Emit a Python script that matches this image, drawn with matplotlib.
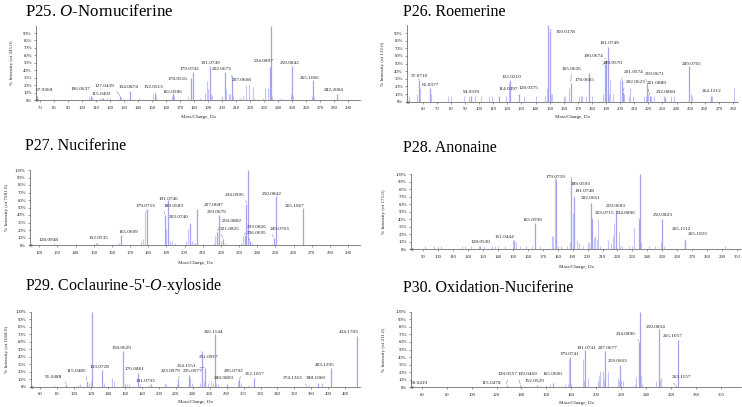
import matplotlib
matplotlib.use('Agg')
import matplotlib.pyplot as plt

plt.rcParams['font.family'] = ['Liberation Serif', 'DejaVu Serif']
plt.rcParams['mathtext.fontset'] = 'custom'
plt.rcParams['mathtext.rm'] = 'Liberation Serif'
plt.rcParams['mathtext.it'] = 'Liberation Serif:italic'

# ---------------- data ----------------
titles = ["P25. $\\mathit{O}$-Nornuciferine", "P26. Roemerine", "P27. Nuciferine",
          "P28. Anonaine", "P29. Coclaurine-5'-$\\mathit{O}$-xyloside", "P30. Oxidation-Nuciferine"]
ylabels = ["% Intensity (of 245.0)", "% Intensity (of 112.0)", "% Intensity (of 7281.0)",
           "% Intensity (of 175.0)", "% Intensity (of 1668.0)", "% Intensity (of 211.0)"]
xlabel_text = "Mass/Charge, Da"

# P25
p25_mz = [67.9368, 106.0637, 115.0492, 127.0439, 134.0874, 152.0513, 165.0586, 178.0516, 179.0742,
          191.0749, 202.0673, 207.0608, 234.0897, 235.0600, 250.0842, 265.1066, 282.2004]
p25_int = [5, 5, 3, 5, 12, 10, 10, 30, 38, 46, 38, 32, 45, 100, 46, 27, 8]
p25_minor_mz = [79, 92, 105, 107, 113, 114, 118, 120, 128, 141, 151, 153, 164, 166, 176, 184, 188, 189,
                190, 192, 193, 200, 203, 205, 206, 208, 213, 215, 217, 219, 222, 223, 229, 231, 233,
                236, 242, 249, 251, 264, 266]
p25_minor_int = [2, 2, 4, 4, 3, 3, 3, 3, 4, 3, 8, 5, 5, 6, 5, 3, 10, 25, 15, 8, 5, 5, 15, 8, 8, 5, 3,
                 5, 20, 22, 17, 3, 3, 16, 16, 5, 3, 8, 5, 5, 4]

# P26
p26_mz = [57.0710, 65.0377, 94.0339, 114.0397, 122.0210, 128.0375, 149.0140, 150.0178, 165.0626,
          178.0665, 189.0570, 190.0674, 191.0749, 201.0574, 202.0623, 219.0671, 221.0880, 232.0868,
          249.0765, 264.1212]
p26_int = [28, 18, 8, 8, 28, 10, 100, 93, 25, 37, 50, 55, 72, 28, 13, 25, 8, 6, 47, 8]
p26_minor_mz = [50, 56, 58, 66, 78, 80, 89, 93, 97, 101, 107, 109, 119, 121, 132, 140, 147, 148, 151,
                152, 160, 161, 164, 171, 172, 173, 176, 180, 188, 192, 193, 195, 200, 203, 206, 207,
                209, 217, 218, 220, 222, 224, 231, 236, 238, 250, 251, 265, 281]
p26_minor_int = [8, 10, 18, 10, 8, 8, 8, 8, 8, 8, 8, 8, 8, 25, 8, 8, 8, 18, 10, 10, 8, 8, 18, 8, 8, 8,
                 8, 8, 10, 10, 28, 10, 28, 10, 8, 18, 8, 8, 8, 10, 8, 8, 8, 8, 8, 10, 8, 8, 18]

# P27
p27_mz = [128.0948, 152.0535, 165.0609, 179.0753, 189.0583, 191.0746, 203.0740, 207.0687, 218.0802,
          219.0679, 221.0825, 233.0826, 234.0905, 235.0616, 236.0695, 249.0763, 250.0842, 265.1067]
p27_int = [1, 3, 13, 48, 40, 60, 30, 48, 18, 40, 8, 13, 55, 100, 5, 10, 65, 50]
p27_minor_mz = [150, 151, 164, 176, 177, 178, 190, 192, 193, 195, 201, 202, 204, 205, 206, 216, 217,
                220, 222, 231, 232, 237, 248]
p27_minor_int = [2, 3, 3, 5, 8, 45, 22, 5, 5, 3, 5, 22, 5, 3, 3, 3, 12, 5, 3, 3, 12, 3, 2]

# P28
p28_mz = [128.0530, 151.0444, 165.0599, 179.0759, 189.0593, 191.0748, 202.0661, 203.0715, 219.0683,
          234.0896, 235.0619, 250.0823, 265.1112, 265.1023]
p28_int = [5, 12, 35, 92, 95, 70, 62, 40, 53, 40, 100, 40, 13, 13]
p28_minor_mz = [91, 97, 100, 102, 116, 118, 122, 127, 131, 136, 138, 140, 145, 150, 152, 155, 159,
                163, 168, 176, 177, 178, 180, 182, 186, 188, 190, 193, 194, 197, 200, 201, 204, 205,
                206, 207, 208, 214, 216, 217, 218, 221, 222, 223, 228, 230, 231, 236, 241, 245, 249,
                251, 292]
p28_minor_int = [5, 5, 5, 5, 5, 5, 5, 5, 5, 5, 5, 5, 5, 12, 10, 5, 5, 5, 5, 18, 18, 97, 5, 5, 5, 10,
                 48, 12, 8, 5, 10, 8, 15, 18, 12, 40, 5, 12, 8, 18, 35, 23, 5, 5, 5, 5, 30, 10, 5, 5,
                 10, 5, 5]

# P29
p29_mz = [91.0488, 115.0485, 121.0580, 133.0728, 158.0629, 176.0861, 191.0733, 223.0979, 235.0977,
          251.0917, 254.1151, 266.1144, 280.0803, 295.0792, 312.1057, 374.1363, 388.1060, 403.1295,
          434.1703]
p29_int = [3, 8, 100, 22, 48, 18, 3, 10, 15, 48, 25, 70, 3, 10, 12, 1, 5, 25, 68]
p29_minor_mz = [77, 105, 107, 118, 120, 135, 145, 147, 160, 163, 165, 178, 189, 207, 209, 221, 237,
                239, 249, 253, 258, 262, 264, 268, 270, 293, 297, 305, 377, 392]
p29_minor_int = [2, 2, 3, 5, 8, 5, 12, 8, 5, 4, 3, 4, 2, 5, 3, 3, 12, 5, 5, 8, 5, 8, 5, 5, 3, 8, 5,
                 2, 2, 5]

# P30
p30_mz = [60.0419, 115.0478, 128.0557, 139.0469, 152.0529, 165.0600, 179.0741, 191.0741, 207.0677,
          219.0663, 234.0896, 235.0610, 250.0834, 263.1157, 265.1057]
p30_int = [1, 1, 3, 3, 3, 6, 40, 50, 48, 30, 60, 100, 77, 2, 63]
p30_minor_mz = [90, 100, 110, 125, 140, 150, 155, 160, 163, 175, 177, 178, 180, 189, 190, 193, 201,
                202, 203, 205, 206, 209, 217, 218, 220, 221, 231, 232, 236, 237, 248, 251, 252, 264,
                280, 300]
p30_minor_int = [1, 1, 1, 1, 2, 2, 2, 3, 5, 5, 5, 38, 5, 38, 10, 12, 8, 15, 22, 22, 10, 20, 12, 8,
                 10, 8, 5, 13, 15, 5, 8, 10, 12, 3, 1, 1]

# ---------------- layout (label positions in data units, leader flags) ----------------
p25_lpos = [(73.3, 13.5), (98.6, 14.8), (113.6, 8), (115.7, 18.8), (132.9, 17.5), (150.7, 17.5),
            (164.5, 10.5), (167.9, 28), (177.1, 41), (191.4, 50), (199.8, 41), (214, 27), (229.5, 53),
            (241.4, 93), (248.6, 50), (262.9, 29), (279.5, 13.5)]
p25_lead = [0, 0, 0, 1, 0, 0, 0, 0, 0, 0, 0, 1, 0, 1, 0, 0, 0]
p26_lpos = [(57.6, 33.8), (65.4, 22), (94.5, 13.2), (120.7, 16.2), (123.1, 32), (135, 17.5),
            (141.4, 96.5), (161.1, 91), (165.4, 43), (174.5, 29), (194.5, 50.4), (181.4, 60),
            (192.1, 76.8), (209.5, 38.6), (210.7, 25.4), (224.2, 36.4), (226.2, 24), (232.6, 13.2),
            (250.4, 49), (264.7, 14)]
p26_lead = [1, 0, 0, 1, 0, 0, 1, 1, 1, 0, 1, 1, 0, 1, 1, 1, 1, 0, 0, 0]
p27_lpos = [(125, 6.7), (152.5, 8.9), (169, 17), (178.2, 52), (193.8, 52), (191, 61), (196.5, 37),
            (215.8, 54), (226, 32), (217.7, 44), (225, 21), (239.7, 24), (227.8, 67), (239.7, 91),
            (239.7, 15.6), (252.5, 21), (248, 68), (260.8, 52)]
p27_lead = [0, 0, 0, 0, 1, 0, 0, 0, 1, 0, 1, 1, 1, 1, 1, 1, 0, 0]
p28_lpos = [(128.6, 10), (144.2, 16.4), (163.2, 39.6), (178.8, 97), (195.6, 87), (197.8, 78),
            (202.2, 68), (211.2, 49), (219.1, 58), (225.8, 49), (245.9, 92), (250.3, 46),
            (262.7, 27), (273.8, 20)]
p28_lead = [0, 0, 0, 1, 1, 1, 0, 1, 0, 1, 1, 0, 0, 1]
p29_lpos = [(75.7, 13.3), (103.3, 20.4), (134.6, 92), (130.7, 26.7), (155.5, 51), (172, 24),
            (183.8, 7.6), (214.5, 21), (239.5, 21), (258.4, 39), (233, 28), (264.4, 73), (277, 11),
            (288.5, 20.5), (313.5, 17), (358.0, 11), (385.0, 11), (396, 29), (423.5, 73)]
p29_lead = [1, 1, 1, 0, 0, 0, 0, 1, 0, 0, 1, 0, 0, 1, 0, 1, 0, 0, 0]
p30_lpos = [(58.1, 5.3), (115.6, 5.3), (129, 17), (145, 17), (150.3, 8.4), (165, 17), (178.4, 43.6),
            (191.8, 52), (209.2, 51.5), (217.2, 35), (223.9, 70), (241, 92), (247.9, 80),
            (268.1, 13), (261.3, 68)]
p30_lead = [0, 0, 1, 1, 0, 0, 0, 0, 0, 0, 1, 1, 0, 1, 0]

W, H = 742, 407
fig = plt.figure(figsize=(W / 100, H / 100), dpi=100)

# axes pixel boxes: left, right, top(100%), bottom(0%)
boxes = [(36, 360, 25.6, 100), (407, 738, 25.4, 101.7), (30, 360, 170, 245),
         (411, 741, 174.3, 249.3), (30.7, 360, 311.7, 386.7), (411, 741, 311.7, 387.3)]
xlims = [(67.1, 298.6), (48.8, 283.6), (114.9, 296.6), (81.8, 302.7), (49, 437.3), (51.4, 316)]
xticks = [range(70, 291, 10), range(60, 281, 10), range(120, 291, 10), range(90, 301, 10),
          range(60, 421, 20), range(60, 301, 20)]
ytop = [90, 90, 100, 100, 100, 100]
title_pos = [(25, 12), (403, 12), (25, 146), (403, 148), (25, 286), (403, 288)]
title_size = [12.2, 11.5, 11.5, 11.5, 11.5, 11.5]
ylab_x = [12, 383, 7, 384, 7, 384]
xlab_y = [117, 117, 263, 267, 402, 403]

panels = [
    (p25_mz, p25_int, p25_minor_mz, p25_minor_int, p25_lpos, p25_lead),
    (p26_mz, p26_int, p26_minor_mz, p26_minor_int, p26_lpos, p26_lead),
    (p27_mz, p27_int, p27_minor_mz, p27_minor_int, p27_lpos, p27_lead),
    (p28_mz, p28_int, p28_minor_mz, p28_minor_int, p28_lpos, p28_lead),
    (p29_mz, p29_int, p29_minor_mz, p29_minor_int, p29_lpos, p29_lead),
    (p30_mz, p30_int, p30_minor_mz, p30_minor_int, p30_lpos, p30_lead),
]

major_col = '#a3a3ef'
minor_col = '#c6c6f6'
axis_col = '#555555'

for i, (mz, inten, mmz, mint, lpos, lead) in enumerate(panels):
    l, r, t, b = boxes[i]
    ax = fig.add_axes([l / W, 1 - b / H, (r - l) / W, (b - t) / H])
    ax.set_xlim(*xlims[i])
    ax.set_ylim(0, 100)
    ax.vlines(mmz, 0, mint, color=minor_col, lw=0.8)
    ax.vlines(mz, 0, inten, color=major_col, lw=0.9)
    for sp in ['top', 'right']:
        ax.spines[sp].set_visible(False)
    for sp in ['left', 'bottom']:
        ax.spines[sp].set_color(axis_col)
        ax.spines[sp].set_linewidth(0.5)
    ax.set_xticks(list(xticks[i]))
    ax.set_yticks(list(range(0, ytop[i] + 1, 10)))
    ax.set_yticklabels([f"{v}%" for v in range(0, ytop[i] + 1, 10)])
    ax.tick_params(axis='both', labelsize=3.4, length=1.5, width=0.4, colors=axis_col,
                   labelcolor='#222222', pad=1.5)
    ax.tick_params(axis='x', pad=2.5)
    # small origin marker as in the instrument software
    ax.plot([xlims[i][0]], [0], marker='<', ms=2.2, mfc='none', mec=axis_col, mew=0.3,
            clip_on=False)
    # peak labels
    for (m, v, (lx, ly), ld) in zip(mz, inten, lpos, lead):
        txt = f"{m:.4f}"
        if ld:
            rx = 0.5
            if m < lx - 3:
                rx = 0.0
            elif m > lx + 3:
                rx = 1.0
            ry = 0.0 if v < ly else 1.0
            ax.annotate(txt, xy=(m, v + 1), xytext=(lx, ly), fontsize=3.8, ha='center',
                        va='center', color='#222222',
                        arrowprops=dict(arrowstyle='-', color='#777777', lw=0.35,
                                        shrinkA=0.5, shrinkB=0, relpos=(rx, ry)))
        else:
            ax.text(lx, ly, txt, fontsize=3.8, ha='center', va='center', color='#222222')
    # titles and axis labels
    tx, ty = title_pos[i]
    fig.text(tx / W, 1 - ty / H, titles[i], fontsize=title_size[i], ha='left', va='center',
             color='black')
    fig.text(ylab_x[i] / W, 1 - ((t + b) / 2) / H, ylabels[i], rotation=90, fontsize=3.6,
             ha='center', va='center', color='#222222')
    fig.text(((l + r) / 2) / W, 1 - xlab_y[i] / H, xlabel_text, fontsize=3.6, ha='center',
             va='center', color='#222222')

fig.savefig('out.png', dpi=100)
